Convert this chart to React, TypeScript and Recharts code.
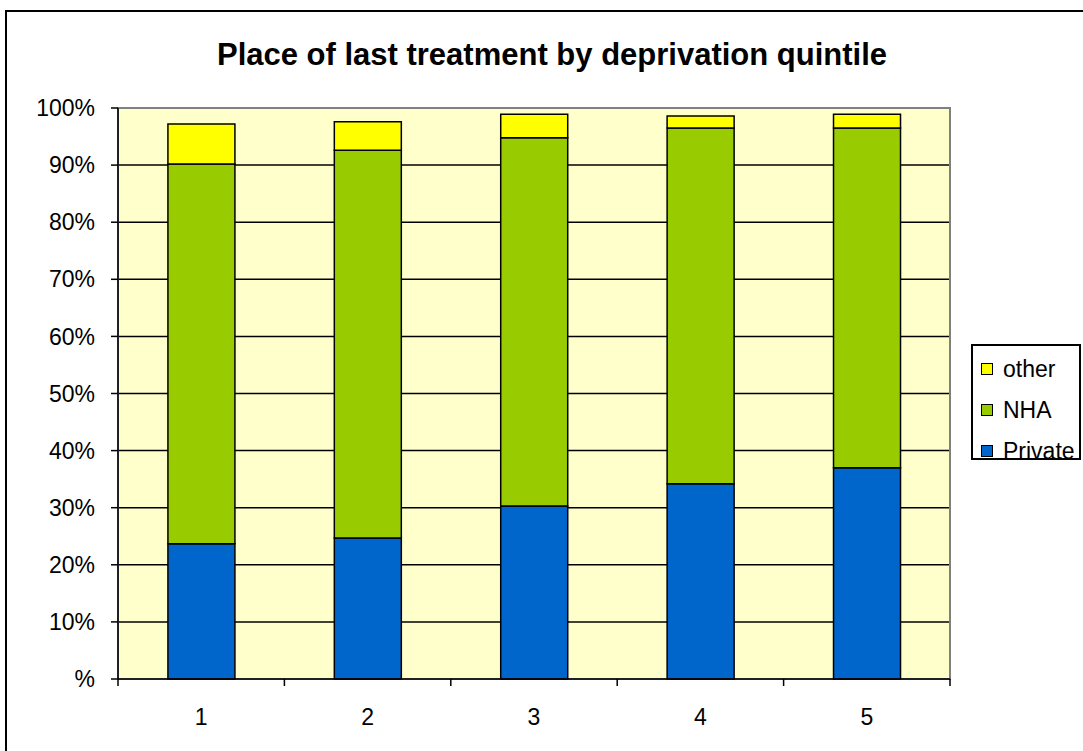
// Place of last treatment by deprivation quintile — stacked % bars
import { BarChart, Bar, XAxis, YAxis, CartesianGrid, ReferenceArea } from "recharts"

const quintiles = ["1", "2", "3", "4", "5"]
const privateShare = [23.7, 24.7, 30.3, 34.2, 37.0]
const nhaShare = [66.5, 67.9, 64.5, 62.3, 59.5]
const otherShare = [7.0, 5.0, 4.1, 2.1, 2.4]
const yTicks = [0, 10, 20, 30, 40, 50, 60, 70, 80, 90, 100]

const seriesKeys = ["other", "NHA", "Private"]
const seriesColors: Record<string, string> = {
  other: "#FFFF00",
  NHA: "#99CC00",
  Private: "#0066CC",
}

const data = quintiles.map((q, i) => ({
  q,
  Private: privateShare[i],
  NHA: nhaShare[i],
  other: otherShare[i],
}))

const FONT = "'Liberation Sans', Arial, sans-serif"
const W = 1083
const H = 751
const PLOT_LEFT = 118
const PLOT_RIGHT = 950
const HALF_BAND = (PLOT_RIGHT - PLOT_LEFT) / quintiles.length / 2

function XTick({ x, y, payload, index }: any) {
  const last = index === quintiles.length - 1
  return (
    <g>
      <line x1={x - HALF_BAND} y1={y} x2={x - HALF_BAND} y2={y + 7} stroke="#000" strokeWidth={1.5} />
      {last && <line x1={x + HALF_BAND} y1={y} x2={x + HALF_BAND} y2={y + 7} stroke="#000" strokeWidth={1.5} />}
      <text x={x} y={y + 46} textAnchor="middle" fontSize={23} fontFamily={FONT} fill="#000">
        {payload.value}
      </text>
    </g>
  )
}

export default function App() {
  return (
    <div style={{ position: "relative", width: W, height: H, overflow: "hidden", background: "#fff" }}>
      <style>{"body{margin:0}"}</style>
      <div
        style={{
          position: "absolute",
          left: 5,
          top: 10,
          width: 1200,
          height: 900,
          border: "2px solid #000",
        }}
      />
      <div
        style={{
          position: "absolute",
          left: 152,
          top: 37,
          width: 800,
          textAlign: "center",
          fontFamily: FONT,
          fontWeight: "bold",
          fontSize: 31,
          lineHeight: "36px",
          color: "#000",
        }}
      >
        Place of last treatment by deprivation quintile
      </div>
      <div style={{ position: "absolute", left: 0, top: 0 }}>
        <BarChart
          width={W}
          height={H}
          data={data}
          margin={{ top: 108, right: W - PLOT_RIGHT, bottom: 0, left: 0 }}
          barCategoryGap="30%"
        >
          <CartesianGrid vertical={false} stroke="#000" strokeWidth={1.5} fill="#FFFFCC" fillOpacity={1} />
          <ReferenceArea y1={0} y2={100} fill="none" stroke="#808080" strokeWidth={2} />
          <XAxis
            dataKey="q"
            height={72}
            axisLine={{ stroke: "#000", strokeWidth: 1.5 }}
            tickLine={false}
            tickSize={0}
            tickMargin={0}
            tick={<XTick />}
            interval={0}
          />
          <YAxis
            width={PLOT_LEFT}
            domain={[0, 100]}
            ticks={yTicks}
            interval={0}
            tickFormatter={(v: number) => (v === 0 ? "%" : `${v}%`)}
            axisLine={{ stroke: "#000", strokeWidth: 1.5 }}
            tickLine={{ stroke: "#000", strokeWidth: 1.5 }}
            tickSize={7}
            tickMargin={16}
            tick={{ fontSize: 23, fill: "#000", fontFamily: FONT }}
          />
          <Bar dataKey="Private" stackId="s" fill={seriesColors.Private} stroke="#000" strokeWidth={1.5} isAnimationActive={false} />
          <Bar dataKey="NHA" stackId="s" fill={seriesColors.NHA} stroke="#000" strokeWidth={1.5} isAnimationActive={false} />
          <Bar dataKey="other" stackId="s" fill={seriesColors.other} stroke="#000" strokeWidth={1.5} isAnimationActive={false} />
        </BarChart>
      </div>
      <div
        style={{
          position: "absolute",
          left: 971,
          top: 344,
          width: 110,
          height: 116,
          border: "2px solid #000",
          background: "#fff",
          boxSizing: "border-box",
          fontFamily: FONT,
          fontSize: 23,
          color: "#000",
        }}
      >
        {seriesKeys.map((k, i) => (
          <div
            key={k}
            style={{ position: "absolute", left: 8, top: 9 + i * 41, height: 28, display: "flex", alignItems: "center" }}
          >
            <span
              style={{
                display: "inline-block",
                width: 10,
                height: 10,
                background: seriesColors[k],
                border: "1px solid #000",
                marginRight: 10,
                flexShrink: 0,
              }}
            />
            {k}
          </div>
        ))}
      </div>
    </div>
  )
}
